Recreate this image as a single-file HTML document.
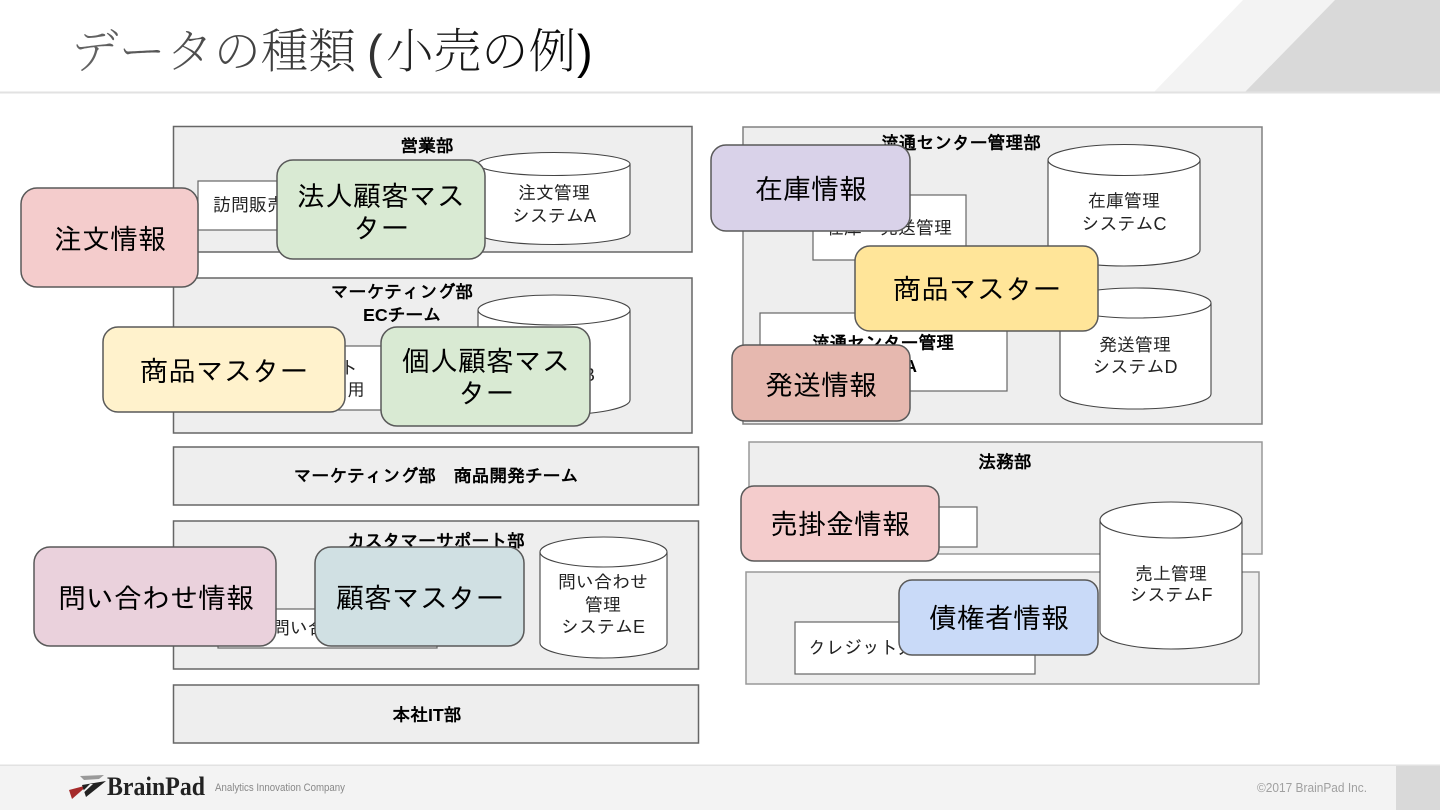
<!DOCTYPE html>
<html lang="ja">
<head>
<meta charset="utf-8">
<title>データの種類 (小売の例)</title>
<style>
html,body{margin:0;padding:0;background:#fff;width:1440px;height:810px;overflow:hidden}
svg{display:block}
text{font-family:"Liberation Sans","IPAGothic","Noto Sans CJK JP",sans-serif;fill:#000}
.dept{fill:#eeeeee;stroke:#666;stroke-width:1.5}
.deptm{fill:#eeeeee;stroke:#808080;stroke-width:1.5}
.deptl{fill:#eeeeee;stroke:#999;stroke-width:1.5}
.wb{fill:#fff;stroke:#666;stroke-width:1.2}
.cyl{fill:#fff;stroke:#444;stroke-width:1.1}
.lab{stroke:#595959;stroke-width:1.5}
.h{font-size:17.8px;font-weight:bold;text-anchor:middle}
.s{font-size:18px;fill:#222;text-anchor:middle}
.l{font-size:28px;text-anchor:middle}
</style>
</head>
<body>
<svg width="1440" height="810" viewBox="0 0 1440 810" xmlns="http://www.w3.org/2000/svg">
<defs>
<linearGradient id="tg" gradientUnits="userSpaceOnUse" x1="72" y1="0" x2="595" y2="0">
<stop offset="0" stop-color="#666"/><stop offset="1" stop-color="#000"/>
</linearGradient>
</defs>
<rect width="1440" height="810" fill="#fff"/>

<!-- header -->
<polygon points="1154,92 1243,0 1440,0 1440,92" fill="#f3f3f3"/>
<polygon points="1245,92 1335,0 1440,0 1440,92" fill="#d9d9d9"/>
<rect x="0" y="91.5" width="1440" height="2" fill="#e2e2e2"/>
<text x="71" y="68" style="font-family:'Noto Serif CJK SC','Liberation Serif',serif;font-size:47.5px;font-weight:200;fill:url(#tg)">データの種類</text>
<text x="367" y="68" style="font-family:'Liberation Sans',sans-serif;font-size:47px;fill:#333">(</text>
<text x="386" y="68" style="font-family:'Noto Serif CJK SC','Liberation Serif',serif;font-size:47.5px;font-weight:200;fill:url(#tg)">小売の例</text>
<text x="577" y="68" style="font-family:'Liberation Sans',sans-serif;font-size:47px;fill:#000">)</text>

<!-- departments -->
<rect class="dept" x="173.5" y="126.5" width="518.5" height="125.5"/>
<rect class="dept" x="173.5" y="278" width="518.5" height="155"/>
<rect class="dept" x="173.5" y="447" width="525" height="58"/>
<rect class="dept" x="173.5" y="521" width="525" height="148"/>
<rect class="dept" x="173.5" y="685" width="525" height="58"/>
<rect class="deptm" x="743" y="127" width="519" height="297"/>
<rect class="deptl" x="749" y="442" width="513" height="112"/>
<rect class="deptl" x="746" y="572" width="513" height="112"/>

<text class="h" x="427" y="152">営業部</text>
<text class="h" x="402" y="298">マーケティング部</text>
<text class="h" x="402" y="321">ECチーム</text>
<text class="h" x="436" y="482">マーケティング部　商品開発チーム</text>
<text class="h" x="436" y="547">カスタマーサポート部</text>
<text class="h" x="427" y="721">本社IT部</text>
<text class="h" x="961" y="149">流通センター管理部</text>
<text class="h" x="1005" y="468">法務部</text>

<!-- white boxes -->
<rect class="wb" x="198" y="181" width="150" height="49"/>
<text x="213" y="211" style="font-size:18px;fill:#222">訪問販売</text>
<rect class="wb" x="300" y="346" width="120" height="64"/>
<text x="358" y="374" style="font-size:18px;fill:#222;text-anchor:end">ト</text>
<text x="365" y="396" style="font-size:18px;fill:#222;text-anchor:end">用</text>
<rect class="wb" x="218" y="609" width="219" height="39"/>
<text x="272" y="634" style="font-size:18px;fill:#222">問い合</text>
<rect class="wb" x="813" y="195" width="153" height="65"/>
<text class="s" x="889" y="234">在庫・発送管理</text>
<rect class="wb" x="760" y="313" width="247" height="78"/>
<text class="h" x="883" y="349">流通センター管理</text>
<text x="917" y="372" style="font-size:17.5px;font-weight:bold;text-anchor:end">システムA</text>
<rect class="wb" x="900" y="507" width="77" height="40"/>
<rect class="wb" x="795" y="622" width="240" height="52"/>
<text x="808" y="654" style="font-size:18px;fill:#222">クレジット入金管理システム</text>

<!-- cylinders -->
<g class="cyl">
<path d="M478 164V233A76 11.5 0 0 0 630 233V164"/><ellipse cx="554" cy="164" rx="76" ry="11.5"/>
<path d="M478 310V400A76 15 0 0 0 630 400V310"/><ellipse cx="554" cy="310" rx="76" ry="15"/>
<path d="M1048 160V250A76 16 0 0 0 1200 250V160"/><ellipse cx="1124" cy="160" rx="76" ry="15.5"/>
<path d="M1060 303V394A75.5 15 0 0 0 1211 394V303"/><ellipse cx="1135.5" cy="303" rx="75.5" ry="15"/>
<path d="M540 552V643A63.5 15 0 0 0 667 643V552"/><ellipse cx="603.5" cy="552" rx="63.5" ry="15"/>
<path d="M1100 520V631A71 18 0 0 0 1242 631V520"/><ellipse cx="1171" cy="520" rx="71" ry="18"/>
</g>
<text class="s" x="554" y="199">注文管理</text>
<text class="s" x="554" y="222">システムA</text>
<text x="595" y="381" style="font-size:18px;fill:#222;text-anchor:end">システムB</text>
<text class="s" x="1124" y="207">在庫管理</text>
<text class="s" x="1124" y="230">システムC</text>
<text class="s" x="1135" y="351">発送管理</text>
<text class="s" x="1135" y="373">システムD</text>
<text class="s" x="603" y="588">問い合わせ</text>
<text class="s" x="603" y="611">管理</text>
<text class="s" x="603" y="633">システムE</text>
<text class="s" x="1171" y="580">売上管理</text>
<text class="s" x="1171" y="601">システムF</text>

<!-- rounded labels -->
<rect class="lab" x="21" y="188" width="177" height="99" rx="16" fill="#f4cccc"/>
<text class="l" x="110" y="249">注文情報</text>
<rect class="lab" x="277" y="160" width="208" height="99" rx="16" fill="#d9ead3"/>
<text class="l" x="381" y="206">法人顧客マス</text>
<text class="l" x="381" y="238">ター</text>
<rect class="lab" x="103" y="327" width="242" height="85" rx="15" fill="#fff2cc"/>
<text class="l" x="224" y="381">商品マスター</text>
<rect class="lab" x="381" y="327" width="209" height="99" rx="16" fill="#d9ead3"/>
<text class="l" x="486" y="371">個人顧客マス</text>
<text class="l" x="486" y="403">ター</text>
<rect class="lab" x="34" y="547" width="242" height="99" rx="16" fill="#ead1dc"/>
<text class="l" x="156" y="608">問い合わせ情報</text>
<rect class="lab" x="315" y="547" width="209" height="99" rx="16" fill="#d0e0e3"/>
<text class="l" x="420" y="608">顧客マスター</text>
<rect class="lab" x="711" y="145" width="199" height="86" rx="15" fill="#d9d2e9"/>
<text class="l" x="811" y="199">在庫情報</text>
<rect class="lab" x="855" y="246" width="243" height="85" rx="15" fill="#ffe599"/>
<text class="l" x="977" y="299">商品マスター</text>
<rect class="lab" x="732" y="345" width="178" height="76" rx="13" fill="#e6b8af"/>
<text class="l" x="821" y="395">発送情報</text>
<rect class="lab" x="741" y="486" width="198" height="75" rx="13" fill="#f4cccc"/>
<text class="l" x="840" y="534">売掛金情報</text>
<rect class="lab" x="899" y="580" width="199" height="75" rx="13" fill="#c9daf8"/>
<text class="l" x="999" y="628">債権者情報</text>

<!-- footer -->
<rect x="0" y="765" width="1440" height="45" fill="#f3f3f3"/>
<rect x="0" y="764.5" width="1440" height="1.5" fill="#e2e2e2"/>
<rect x="1396" y="766" width="44" height="44" fill="#d9d9d9"/>
<polygon points="80,776 104,775 99,779 84,780" fill="#999"/>
<polygon points="69,790 88,785 72,799" fill="#a52a2a"/>
<polygon points="82,785 106,781 86,797" fill="#222"/>
<polygon points="90,784 93,784 79,797 77,797" fill="#f3f3f3"/>
<text x="107" y="795" textLength="98" lengthAdjust="spacingAndGlyphs" style="font-family:'Liberation Serif',serif;font-size:26px;font-weight:bold;fill:#222">BrainPad</text>
<text x="215" y="791" textLength="130" lengthAdjust="spacingAndGlyphs" style="font-family:'Liberation Sans',sans-serif;font-size:11px;fill:#888">Analytics Innovation Company</text>
<text x="1257" y="792" textLength="110" lengthAdjust="spacingAndGlyphs" style="font-family:'Liberation Sans',sans-serif;font-size:13px;fill:#a0a0a0">©2017 BrainPad Inc.</text>
</svg>
</body>
</html>
